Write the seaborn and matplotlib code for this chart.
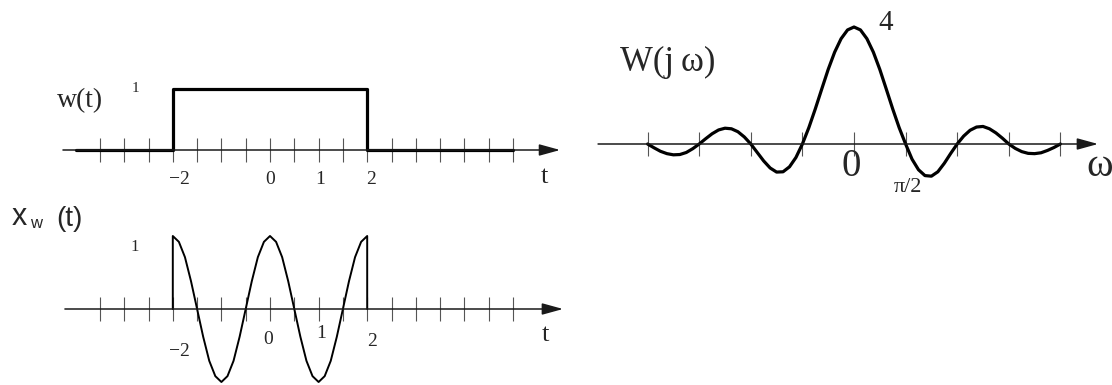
import matplotlib
matplotlib.use("Agg")
import matplotlib.pyplot as plt
import seaborn as sns

# w(t): rectangular window of height 1 on [-2, 2]
w_t = [-4.0, -2.0, -2.0, 2.0, 2.0, 5.0]
w_vals = [0, 0, 1, 1, 0, 0]

# x_w(t): windowed cosine, every 1/8 of a unit
xw_t = [-2.0, -2.0, -1.875, -1.75, -1.625, -1.5, -1.375, -1.25, -1.125,
        -1.0, -0.875, -0.75, -0.625, -0.5, -0.375, -0.25, -0.125,
        0.0, 0.125, 0.25, 0.375, 0.5, 0.625, 0.75, 0.875,
        1.0, 1.125, 1.25, 1.375, 1.5, 1.625, 1.75, 1.875, 2.0, 2.0]
xw_vals = [0, 1.0, 0.92, 0.71, 0.38, 0.0, -0.38, -0.71, -0.92,
           -1.0, -0.92, -0.71, -0.38, 0.0, 0.38, 0.71, 0.92,
           1.0, 0.92, 0.71, 0.38, 0.0, -0.38, -0.71, -0.92,
           -1.0, -0.92, -0.71, -0.38, 0.0, 0.38, 0.71, 0.92, 1.0, 0]

# W(jw): omega in units of pi/2
omega = [-4.0, -3.875, -3.75, -3.625, -3.5, -3.375, -3.25, -3.125,
         -3.0, -2.875, -2.75, -2.625, -2.5, -2.375, -2.25, -2.125,
         -2.0, -1.875, -1.75, -1.625, -1.5, -1.375, -1.25, -1.125,
         -1.0, -0.875, -0.75, -0.625, -0.5, -0.375, -0.25, -0.125,
         0.0, 0.125, 0.25, 0.375, 0.5, 0.625, 0.75, 0.875,
         1.0, 1.125, 1.25, 1.375, 1.5, 1.625, 1.75, 1.875,
         2.0, 2.125, 2.25, 2.375, 2.5, 2.625, 2.75, 2.875,
         3.0, 3.125, 3.25, 3.375, 3.5, 3.625, 3.75, 3.875, 4.0]
W_vals = [0.0, -0.13, -0.25, -0.33, -0.37, -0.36, -0.29, -0.16,
          0.0, 0.18, 0.35, 0.48, 0.54, 0.52, 0.42, 0.24,
          0.0, -0.29, -0.58, -0.82, -0.96, -0.95, -0.78, -0.46,
          0.0, 0.56, 1.20, 1.88, 2.55, 3.14, 3.60, 3.90,
          4.0, 3.90, 3.60, 3.14, 2.55, 1.88, 1.20, 0.56,
          0.0, -0.52, -0.88, -1.08, -1.10, -0.95, -0.66, -0.32,
          0.0, 0.27, 0.47, 0.58, 0.60, 0.52, 0.38, 0.20,
          0.0, -0.15, -0.26, -0.32, -0.33, -0.30, -0.22, -0.12, 0.0]

t_ticks = [-3.5, -3.0, -2.5, -2.0, -1.5, -1.0, -0.5, 0.0, 0.5,
           1.0, 1.5, 2.0, 2.5, 3.0, 3.5, 4.0, 4.5, 5.0]
omega_ticks = [-4, -3, -2, -1, 0, 1, 2, 3, 4]

sns.set_style("white")
SERIF = ["Liberation Serif", "DejaVu Serif"]
SANS = ["Liberation Sans", "DejaVu Sans"]
plt.rcParams["font.family"] = SERIF

W_PX, H_PX = 1112, 385
fig = plt.figure(figsize=(W_PX / 100, H_PX / 100), dpi=100)


def make_axes(x0, sx, y0, sy):
    """Transparent full-figure axes, origin at pixel (x0, y0), sx/sy px per unit"""
    ax = fig.add_axes([0, 0, 1, 1])
    ax.patch.set_alpha(0)
    ax.set_xlim(-x0 / sx, (W_PX - x0) / sx)
    ax.set_ylim((y0 - H_PX) / sy, y0 / sy)
    for s in ["left", "right", "top", "bottom"]:
        ax.spines[s].set_visible(False)
    ax.spines["bottom"].set_position(("data", 0))
    ax.set_yticks([])
    ax.tick_params(axis="x", bottom=True, direction="inout", length=17,
                   width=0.8, color="#555555", labelbottom=False)
    return ax


def draw_axis(ax, start, tip, ticks):
    ax.set_xticks(ticks)
    ax.annotate("", xy=(tip, 0), xytext=(start, 0),
                arrowprops=dict(arrowstyle="-|>,head_length=0.8,head_width=0.22",
                                mutation_scale=16, lw=1.1, color="#1a1a1a",
                                shrinkA=0, shrinkB=0))


def label(px, py, s, size, family=SERIF, **kw):
    fig.text(px / W_PX, 1 - py / H_PX, s, fontsize=size, family=family,
             ha=kw.pop("ha", "center"), va=kw.pop("va", "center"), **kw)


# top left: w(t)
ax1 = make_axes(270, 48.6, 150, 61)
draw_axis(ax1, -4.26, 5.97, t_ticks)
sns.lineplot(x=w_t, y=w_vals, ax=ax1, sort=False, estimator=None,
             color="black", lw=2.3)
ax1.set(xlabel="", ylabel="")

# bottom left: x_w(t)
ax2 = make_axes(270, 48.6, 309, 73)
draw_axis(ax2, -4.22, 6.03, t_ticks)
sns.lineplot(x=xw_t, y=xw_vals, ax=ax2, sort=False, estimator=None,
             color="black", lw=1.4)
ax2.set(xlabel="", ylabel="")

# right: W(jw)
ax3 = make_axes(854, 51.6, 144, 29.25)
draw_axis(ax3, -4.96, 4.73, omega_ticks)
sns.lineplot(x=omega, y=W_vals, ax=ax3, sort=False, estimator=None,
             color="black", lw=2.3)
ax3.set(xlabel="", ylabel="")

# texts, top panel
label(80, 101, "w(t)", 20)
label(135, 89, "1", 11)
label(169, 179, "\u22122", 14, ha="left")
label(270, 179, "0", 14)
label(320, 179, "1", 14)
label(371, 179, "2", 14)
label(544, 177, "t", 19)

# texts, bottom panel
label(19, 217, "x", 22, family=SANS)
label(36, 224, "w", 12, family=SANS)
label(69, 219, "(t)", 20, family=SANS)
label(135, 247, "1", 12)
label(169, 352, "\u22122", 14, ha="left")
label(268, 339, "0", 14)
label(321, 334, "1", 14)
label(372, 342, "2", 14)
label(545, 335, "t", 19)

# texts, right panel
label(668, 62, "W(j\u2009\u03c9)", 25)
label(886, 23, "4", 21)
label(851, 167, "0", 28)
label(908, 187, "\u03c0/2", 16)
label(1100, 167, "\u03c9", 29)

fig.savefig("out.png", dpi=100)
